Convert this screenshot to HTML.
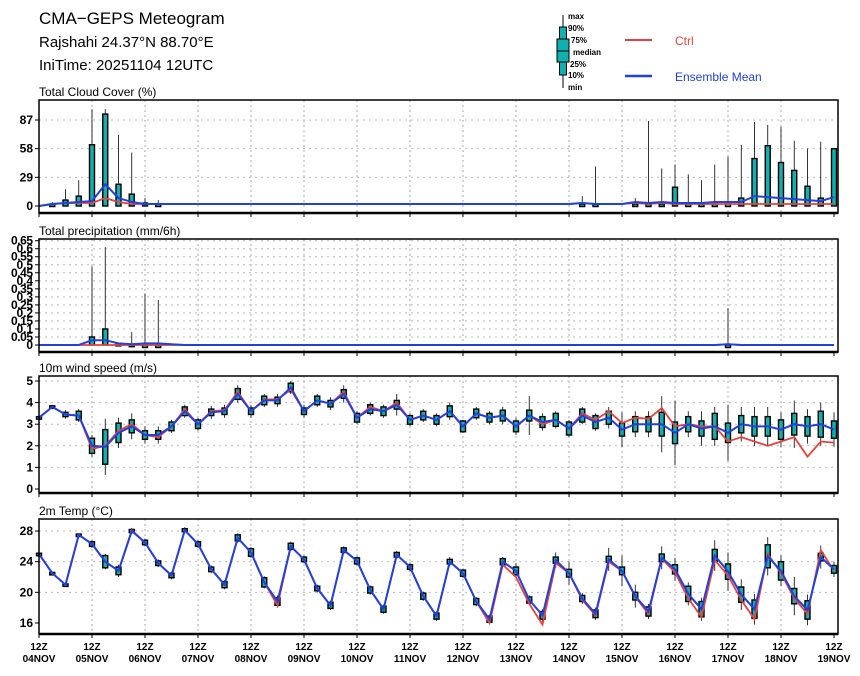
<!DOCTYPE html>
<html><head><meta charset="utf-8"><style>
body{margin:0;background:#fff;font-family:"Liberation Sans",sans-serif;}
svg text{font-family:"Liberation Sans",sans-serif;}
</style></head><body>
<svg id="c" width="860" height="671" viewBox="0 0 860 671" xmlns="http://www.w3.org/2000/svg">
<rect width="860" height="671" fill="#fff"/>
<g>
<text x="39" y="24" font-size="17">CMA−GEPS Meteogram</text>
<text x="39" y="47" font-size="15">Rajshahi 24.37°N 88.70°E</text>
<text x="39" y="70" font-size="15">IniTime: 20251104 12UTC</text>
</g>
<g font-size="8" font-weight="bold">
<line x1="563" y1="15" x2="563" y2="88" stroke="#000" stroke-width="1"/>
<rect x="559.5" y="27" width="7" height="48" fill="#10b0b0" stroke="#000" stroke-width="1"/>
<rect x="557" y="39" width="12" height="23" fill="#10b0b0" stroke="#000" stroke-width="1"/>
<line x1="557" y1="51" x2="569" y2="51" stroke="#000"/>
<text x="568" y="19">max</text><text x="568" y="31">90%</text><text x="571" y="43">75%</text>
<text x="573" y="55">median</text><text x="570" y="67">25%</text><text x="568" y="78">10%</text><text x="568" y="90">min</text>
</g>
<g><line x1="625" y1="40" x2="652" y2="40" stroke="#e8413c" stroke-width="2"/><text x="675" y="45" font-size="12" fill="#e8413c">Ctrl</text></g>
<g><line x1="625" y1="76" x2="652" y2="76" stroke="#2040e0" stroke-width="2.5"/><text x="675" y="81" font-size="12" fill="#2040e0">Ensemble Mean</text></g>
<g id="plots"></g>
</svg>
<script>
// ---- data (61 steps, 6-hourly from 12Z 04NOV) ----
const days=["04NOV","05NOV","06NOV","07NOV","08NOV","09NOV","10NOV","11NOV","12NOV","13NOV","14NOV","15NOV","16NOV","17NOV","18NOV","19NOV"];
const cloudTicks=[0,29,58,87];
const cloudMean=[0,2,3,4,5,22,8,4,2,2,2,2,2,2,2,2,2,2,2,2,2,2,2,2,2,2,2,2,2,2,2,2,2,2,2,2,2,2,2,2,2,3,2,2,2,4,3,4,3,3,3,4,4,4,10,9,8,7,6,5,9];
const cloudCtrl=[0,2,3,3,3,8,4,2,2,2,2,2,2,2,2,2,2,2,2,2,2,2,2,2,2,2,2,2,2,2,2,2,2,2,2,2,2,2,2,2,2,3,2,2,2,3,2,3,2,2,2,2,2,2,2,2,2,2,2,2,2];
const cloudQ75=[0,2,6,10,62,93,22,12,3,2,2,2,2,2,2,2,2,2,2,2,2,2,2,2,2,2,2,2,2,2,2,2,2,2,2,2,2,2,2,2,2,2,2,2,2,2,2,2,19,2,2,2,2,8,48,61,44,36,20,8,58];
const cloudMax=[0,4,17,26,98,98,72,54,8,6,2,2,2,2,2,2,2,2,2,2,2,2,2,2,2,2,2,2,2,2,2,2,2,2,2,2,2,2,2,2,2,10,40,2,2,8,86,38,42,32,26,42,50,62,85,82,80,66,58,65,58];
const precTicks=[0,0.05,0.1,0.15,0.2,0.25,0.3,0.35,0.4,0.45,0.5,0.55,0.6,0.65];
const precMean=[0,0,0,0,0.03,0.03,0.01,0.005,0.01,0.01,0.005,0,0,0,0,0,0,0,0,0,0,0,0,0,0,0,0,0,0,0,0,0,0,0,0,0,0,0,0,0,0,0,0,0,0,0,0,0,0,0,0,0,0.005,0,0,0,0,0,0,0,0];
const precCtrl=[0,0,0,0,0,0,0,0,0,0,0,0,0,0,0,0,0,0,0,0,0,0,0,0,0,0,0,0,0,0,0,0,0,0,0,0,0,0,0,0,0,0,0,0,0,0,0,0,0,0,0,0,0.005,0,0,0,0,0,0,0,0];
const precQ75=[0,0,0,0,0.05,0.1,0.01,0.005,0,0,0,0,0,0,0,0,0,0,0,0,0,0,0,0,0,0,0,0,0,0,0,0,0,0,0,0,0,0,0,0,0,0,0,0,0,0,0,0,0,0,0,0,0,0,0,0,0,0,0,0,0];
const precMax=[0,0,0,0,0.49,0.61,0.01,0.08,0.32,0.28,0,0,0,0,0,0,0,0,0,0,0,0,0,0,0,0,0,0,0,0,0,0,0,0,0,0,0,0,0,0,0,0,0,0,0,0,0,0,0,0,0,0,0.23,0,0,0,0,0,0,0,0];
const windTicks=[0,1,2,3,4,5];
const windMean=[3.3,3.8,3.45,3.4,2.0,1.95,2.6,2.9,2.5,2.5,2.9,3.6,3.0,3.55,3.6,4.4,3.6,4.1,4.1,4.7,3.6,4.1,3.95,4.4,3.3,3.7,3.6,3.9,3.2,3.4,3.2,3.6,2.9,3.5,3.3,3.4,2.9,3.4,3.1,3.2,2.8,3.4,3.1,3.3,2.75,3.0,3.0,3.0,2.6,3.0,2.8,2.9,2.6,3.0,2.9,2.9,2.75,3.0,2.9,3.0,2.75];
const windCtrl=[3.3,3.8,3.45,3.4,1.85,2.0,2.7,3.0,2.5,2.4,2.9,3.7,3.0,3.6,3.65,4.5,3.6,4.15,4.15,4.6,3.6,4.1,3.95,4.5,3.3,3.8,3.6,4.0,3.2,3.4,3.2,3.6,2.9,3.5,3.3,3.4,2.9,3.4,3.0,3.2,2.8,3.5,3.2,3.6,3.05,3.3,3.25,3.75,2.9,3.0,2.9,2.9,2.2,2.4,2.2,2.0,2.2,2.4,1.5,2.2,2.15];
const windIqr=[0.05,0.05,0.1,0.2,0.35,0.8,0.45,0.3,0.2,0.2,0.2,0.2,0.2,0.15,0.15,0.25,0.15,0.2,0.15,0.2,0.15,0.2,0.15,0.2,0.2,0.2,0.2,0.2,0.2,0.2,0.2,0.25,0.25,0.2,0.2,0.25,0.25,0.25,0.25,0.3,0.3,0.3,0.3,0.3,0.3,0.35,0.35,0.55,0.5,0.35,0.35,0.6,0.45,0.4,0.45,0.45,0.45,0.5,0.45,0.6,0.4];
const windWhisk=[0.1,0.1,0.2,0.3,0.5,1.3,0.7,0.6,0.4,0.4,0.3,0.3,0.3,0.3,0.3,0.4,0.3,0.3,0.3,0.3,0.3,0.3,0.3,0.4,0.3,0.3,0.3,0.5,0.3,0.3,0.3,0.4,0.3,0.3,0.3,0.4,0.4,0.9,0.4,0.4,0.4,0.4,0.4,0.5,0.8,0.6,0.6,1.3,1.5,0.6,0.8,0.9,1.3,0.8,0.9,0.9,0.8,1.1,0.8,1.0,0.8];
const tempTicks=[16,20,24,28];
const tempMean=[25,22.5,21,27.5,26.3,24,22.8,28,26.5,23.8,22.2,28.1,26.3,23,21,27.1,25.2,21.3,18.8,26,24.3,20.5,18.3,25.5,24.1,20.3,17.8,24.9,23.3,19.5,16.9,24,22.5,18.8,16.5,24,22.8,19,17,24.2,22.5,19.2,17.2,24.3,22.8,19.5,17.5,24.5,23,19.8,17.8,24.8,22.7,19.7,17.8,24.7,22.8,19.5,17.7,24.6,23];
const tempCtrl=[25,22.5,21,27.5,26.3,24,22.8,28.1,26.5,23.8,22.2,28.1,26.3,23,21,27.1,25.2,21.3,18.3,26,24.3,20.5,18.3,25.5,24.1,20.3,17.8,24.9,23.3,19.5,16.9,24,22.5,18.8,16.0,23.6,22,18.5,15.8,23.8,22.5,19,17,24,22.8,19.4,17.2,24.4,22.6,19.2,16.8,24.2,22.2,19,16.5,25,22.5,19.2,17.2,25.5,22.8];
const tempIqr=[0.1,0.1,0.1,0.1,0.3,0.8,0.5,0.2,0.3,0.3,0.3,0.2,0.3,0.3,0.4,0.4,0.5,0.6,0.5,0.4,0.3,0.3,0.4,0.3,0.4,0.4,0.4,0.3,0.3,0.4,0.4,0.3,0.4,0.4,0.4,0.4,0.5,0.4,0.5,0.4,0.5,0.4,0.5,0.4,0.5,0.5,0.6,0.5,0.6,1.0,1.0,0.8,1.0,1.0,1.2,1.5,1.2,1.0,1.2,0.5,0.5];
const tempWhisk=[0.2,0.2,0.2,0.2,0.5,1.0,0.8,0.4,0.5,0.5,0.5,0.4,0.5,0.5,0.6,0.6,0.7,0.8,0.8,0.6,0.5,0.5,0.6,0.5,0.6,0.6,0.6,0.5,0.6,0.6,0.6,0.6,0.6,0.6,0.6,0.6,1.0,0.6,0.8,1.0,1.5,0.7,0.8,1.5,2.0,1.5,1.0,1.5,1.5,1.5,1.5,2.0,2.5,2.0,2.0,2.5,2.0,2.5,2.0,1.5,1.0];

const NS="http://www.w3.org/2000/svg";
const X0=39, DAY=53, XR=838;
const xs=i=>X0+i*DAY/4;
const G=document.getElementById('plots');
function mk(tag,attrs,parent){const e=document.createElementNS(NS,tag);for(const k in attrs)e.setAttribute(k,attrs[k]);(parent||G).appendChild(e);return e;}

function panel(opt){
  const g=mk('g',{});
  
  
  const ys=v=>opt.y0+(v-opt.v0)*(opt.y1-opt.y0)/(opt.v1-opt.v0);
  const t=mk('text',{x:39,y:opt.top-4,'font-size':12},g);t.textContent=opt.title;
  
  
  for(let d=1;d<15;d++){mk('line',{x1:X0+d*DAY,x2:X0+d*DAY,y1:opt.top,y2:opt.bot,stroke:'#aaa','stroke-dasharray':'2,3','stroke-width':1},g);}
  opt.ticks.forEach((v,k)=>{
    const y=ys(v);
    if(k>0) mk('line',{x1:X0,x2:XR,y1:y,y2:y,stroke:'#bbb','stroke-dasharray':'2,4'},g);
    mk('line',{x1:X0-4,x2:X0,y1:y,y2:y,stroke:'#000'},g);
    const lb=mk('text',{x:X0-6,y:y+4,'font-size':opt.tfs||12,'font-weight':'bold','text-anchor':'end'},g);
    if(opt.squeeze) lb.setAttribute('textLength',String(v).length*5.5);
    lb.textContent=v;
    
    
  });
  for(let d=0;d<=15;d++) mk('line',{x1:X0+d*DAY,x2:X0+d*DAY,y1:opt.bot,y2:opt.bot+4,stroke:'#000'},g);
  opt.mean.forEach((m,i)=>{
    const x=xs(i);
    let lo,hi,wl,wh;
    if(opt.q75){lo=opt.v0;hi=opt.q75[i];wl=opt.v0;wh=opt.max[i];
      if(hi<=opt.skip&&wh<=opt.skip) return;}
    else{lo=m-opt.iqr[i];hi=m+opt.iqr[i];wl=m-opt.wh[i];wh=m+opt.wh[i];}
    const w=mk('line',{x1:x,x2:x,y1:ys(wl),y2:ys(wh),stroke:'#000','stroke-width':0.8},g);
    
    
    const h=Math.max(Math.abs(ys(hi)-ys(lo)),2.5);
    const b=mk('rect',{x:x-2.5,y:Math.min(ys(hi),ys(lo)),width:5,height:h,fill:'#10b0b0',stroke:'#000','stroke-width':1.4},g);
    
    
  });
  const path=arr=>arr.map((v,i)=>(i?'L':'M')+xs(i).toFixed(1)+','+ys(v).toFixed(1)).join('');
  const c=mk('path',{d:path(opt.ctrl),fill:'none',stroke:'#e8413c','stroke-width':1.8},g);
  
  
  const e=mk('path',{d:path(opt.mean),fill:'none',stroke:'#2040e0','stroke-width':2},g);
  
  
  const fr=mk('rect',{x:X0,y:opt.top,width:XR-X0,height:opt.bot-opt.top,fill:'none',stroke:'#000','stroke-width':1.5},g);
  
  
  mk('line',{x1:X0,x2:XR,y1:opt.bot,y2:opt.bot,stroke:'#000','stroke-width':2.5},g);
}
panel({name:'cloud-panel',title:'Total Cloud Cover (%)',top:100,bot:213,v0:0,v1:87,y0:206,y1:120,ticks:cloudTicks,mean:cloudMean,ctrl:cloudCtrl,q75:cloudQ75,max:cloudMax,skip:2});
panel({name:'precip-panel',title:'Total precipitation (mm/6h)',top:239,bot:352,v0:0,v1:0.65,y0:345,y1:240.7,ticks:precTicks,tfs:12,squeeze:true,mean:precMean,ctrl:precCtrl,q75:precQ75,max:precMax,skip:0});
panel({name:'wind-panel',title:'10m wind speed (m/s)',top:376,bot:493,v0:0,v1:5,y0:489,y1:381,ticks:windTicks,mean:windMean,ctrl:windCtrl,iqr:windIqr,wh:windWhisk});
panel({name:'temp-panel',title:'2m Temp (°C)',top:519,bot:634,v0:16,v1:28,y0:623,y1:531,ticks:tempTicks,mean:tempMean,ctrl:tempCtrl,iqr:tempIqr,wh:tempWhisk});
days.forEach((d,k)=>{
  const x=X0+k*DAY;
  const a=mk('text',{x:x,y:650,'font-size':10,'font-weight':'bold','text-anchor':'middle'});a.textContent='12Z';
  
  
  const b=mk('text',{x:x,y:662,'font-size':10,'font-weight':'bold','text-anchor':'middle'});b.textContent=d;
  
  
});
</script>
</body></html>
